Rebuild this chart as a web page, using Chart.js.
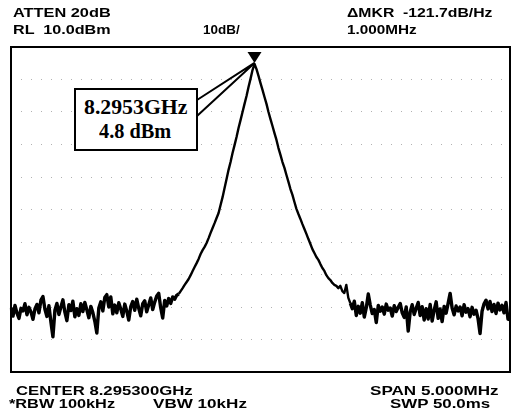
<!DOCTYPE html>
<html>
<head>
<meta charset="utf-8">
<script src="https://cdn.jsdelivr.net/npm/chart.js@4.4.1/dist/chart.umd.min.js"></script>
<style>
  html, body { margin: 0; padding: 0; background: #fff; }
  #wrap { position: relative; width: 514px; height: 418px; overflow: hidden; }
  #wrap canvas { position: absolute; left: 0; top: 0; }
  .lbl { position: absolute; font-family: "Liberation Sans", Arial, sans-serif; font-size: 12px; font-weight: bold;
         line-height: 12px; white-space: pre; color: #000; transform-origin: 0 0; }
  #mkbox { position: absolute; left: 74px; top: 88px; width: 120px; height: 59px; border: 2px solid #000; background: #fff; }
  .mk { position: absolute; font-family: "Liberation Serif", "Times New Roman", serif; font-weight: bold; font-size: 22px;
        line-height: 22px; white-space: pre; color: #000; transform-origin: 0 0; }
</style>
</head>
<body>
<div id="wrap">
  <canvas id="trace" width="514" height="418"></canvas>
  <div class="lbl" style="left:13px;top:7px" data-w="98">ATTEN 20dB</div>
  <div class="lbl" style="left:13px;top:24px" data-w="97">RL  10.0dBm</div>
  <div class="lbl" style="left:203px;top:24px" data-w="37">10dB/</div>
  <div class="lbl" style="left:347px;top:7px" data-w="146">ΔMKR  -121.7dB/Hz</div>
  <div class="lbl" style="left:347px;top:24px" data-w="70">1.000MHz</div>
  <div class="lbl" style="left:16px;top:385px" data-w="177">CENTER 8.295300GHz</div>
  <div class="lbl" style="left:9px;top:398px" data-w="106">*RBW 100kHz</div>
  <div class="lbl" style="left:153px;top:398px" data-w="94">VBW 10kHz</div>
  <div class="lbl" style="left:370px;top:385px" data-w="128">SPAN 5.000MHz</div>
  <div class="lbl" style="left:390px;top:398px" data-w="100">SWP 50.0ms</div>
  <div id="mkbox"></div>
  <div class="mk" style="left:84px;top:96px" data-w="104">8.2953GHz</div>
  <div class="mk" style="left:99px;top:120px" data-w="72">4.8 dBm</div>
</div>
<script>
// trace levels in dBm, one value per sweep point (251 points over the 5 MHz span)
const noiseLeft = [
  -70.2, -72.8, -69.5, -71.9, -73.5, -70.4, -71.2, -69.0, -72.4, -70.1,
  -71.5, -73.8, -70.6, -69.2, -71.8, -67.9, -66.8, -70.7, -72.9, -69.6,
  -74.6, -79.2, -71.0, -68.9, -72.3, -70.0, -67.8, -71.6, -74.2, -69.3,
  -71.1, -68.2, -73.0, -70.5, -72.6, -69.0, -71.4, -68.6, -70.9, -73.3,
  -69.8, -71.7, -74.4, -78.0, -70.3, -68.4, -71.2, -67.1, -66.2, -70.0,
  -66.9, -72.1, -69.4, -71.8, -68.7, -70.6, -72.9, -69.1, -71.3, -74.0,
  -69.9, -68.3, -71.0, -67.6, -70.4, -72.7, -69.0, -68.1, -71.5, -69.3,
  -67.2, -70.8, -68.5, -66.6, -65.8, -70.2, -73.4, -68.0, -69.7, -67.4,
  -68.9, -66.9, -67.6, -66.4
];
const flankLeft = [
  -66.0, -65.1, -64.2, -63.2, -62.3, -61.4, -60.2, -58.9, -57.7, -56.5,
  -55.2, -53.7, -52.5, -51.5, -50.3, -48.8, -47.2, -45.7, -44.2, -42.6,
  -41.1, -38.6, -36.2, -33.4, -30.6, -27.8, -25.4, -22.6, -20.2, -17.7,
  -14.9, -12.5, -10.0, -7.5, -5.1, -2.3, 0.2, 2.9, 4.8
];
const flankRight = [
  3.2, 1.1, -1.1, -3.2, -5.4, -7.5, -10.0, -12.2, -14.3, -16.5,
  -18.6, -21.1, -23.2, -25.4, -27.2, -29.4, -31.5, -33.7, -35.5, -37.7,
  -39.8, -41.4, -42.9, -44.5, -46.0, -47.5, -49.1, -50.6, -52.2, -53.4,
  -54.6, -55.5, -56.8, -58.0, -58.9, -60.2, -61.1, -61.7, -62.6, -63.2,
  -63.5, -64.2, -63.5, -65.1, -65.7, -63.2, -67.2, -68.8
];
const noiseRight = [
  -70.5, -68.2, -72.6, -69.8, -71.9, -68.7, -73.1, -70.2, -66.0, -69.4,
  -72.0, -70.8, -74.8, -69.5, -71.3, -70.0, -72.2, -69.1, -71.0, -70.3,
  -72.8, -69.6, -71.4, -70.1, -68.9, -71.8, -73.2, -70.0, -77.4, -71.5,
  -69.3, -72.3, -70.4, -68.6, -72.6, -69.9, -74.0, -70.5, -73.7, -69.2,
  -74.3, -71.0, -68.4, -73.5, -70.6, -74.5, -69.8, -71.9, -68.9, -65.8,
  -70.3, -72.4, -69.7, -71.2, -70.0, -72.7, -69.3, -71.6, -70.5, -73.0,
  -70.1, -72.2, -71.0, -73.6, -78.2, -71.3, -69.0, -67.9, -70.6, -68.3,
  -71.4, -69.2, -72.0, -68.8, -70.9, -69.5, -71.8, -68.6, -73.7, -73.9
];

// display settings: reference level 10 dBm, 10 dB/div, 10 divisions
const refLevel = 10;
const dbPerDiv = 10;
const divisions = 10;

const trace = [...noiseLeft, ...flankLeft, ...flankRight, ...noiseRight];
const sweepPoints = trace.map((_, i) => i);
const peakIndex = trace.indexOf(Math.max(...trace));
const flankStart = noiseLeft.length;
const flankEnd = noiseLeft.length + flankLeft.length + flankRight.length - 1;

// frame, marker triangle and leader lines to the marker readout box
const screenPlugin = {
  id: "screen",
  afterDraw(chart) {
    const { ctx, chartArea: a, scales } = chart;
    ctx.save();
    ctx.strokeStyle = "#000";
    ctx.lineWidth = 2;
    ctx.strokeRect(a.left, a.top, a.right - a.left, a.bottom - a.top);

    const px = scales.x.getPixelForValue(peakIndex);
    const tipY = scales.y.getPixelForValue(trace[peakIndex]) - 1;
    ctx.fillStyle = "#000";
    ctx.beginPath();
    ctx.moveTo(px - 7, tipY - 11);
    ctx.lineTo(px + 7, tipY - 11);
    ctx.lineTo(px, tipY);
    ctx.closePath();
    ctx.fill();

    ctx.lineWidth = 2;
    ctx.beginPath();
    ctx.moveTo(197, 100);
    ctx.lineTo(px, tipY);
    ctx.moveTo(197, 116);
    ctx.lineTo(px, tipY);
    ctx.stroke();
    ctx.restore();
  }
};

new Chart(document.getElementById("trace"), {
  type: "line",
  plugins: [screenPlugin],
  data: {
    labels: sweepPoints,
    datasets: [{
      data: trace,
      borderColor: "#000",
      borderWidth: 2.4,
      borderJoinStyle: "round",
      pointRadius: 0,
      tension: 0,
      fill: false,
      // the noise floor prints heavier than the clean flanks
      segment: {
        borderWidth: c => (c.p0DataIndex < flankStart || c.p1DataIndex > flankEnd) ? 3.4 : 2.4
      }
    }]
  },
  options: {
    responsive: false,
    animation: false,
    layout: { padding: { left: 11, right: 4, top: 47, bottom: 46 } },
    plugins: { legend: { display: false }, tooltip: { enabled: false } },
    scales: {
      x: {
        type: "category",
        offset: false,
        ticks: { display: false },
        grid: { display: false, drawTicks: false },
        border: { display: false }
      },
      y: {
        min: refLevel - dbPerDiv * divisions,
        max: refLevel,
        ticks: { display: false, stepSize: dbPerDiv },
        grid: { color: "rgba(0,0,0,0.3)", lineWidth: 1, drawTicks: false },
        border: { display: false, dash: [1, 9] }
      }
    }
  }
});

// stretch the screen annotations to the widths they have on the analyzer printout
document.querySelectorAll(".lbl, .mk").forEach(el => {
  const s = Number(el.dataset.w) / el.offsetWidth;
  el.style.transform = `scaleX(${s.toFixed(3)})`;
});
</script>
</body>
</html>
